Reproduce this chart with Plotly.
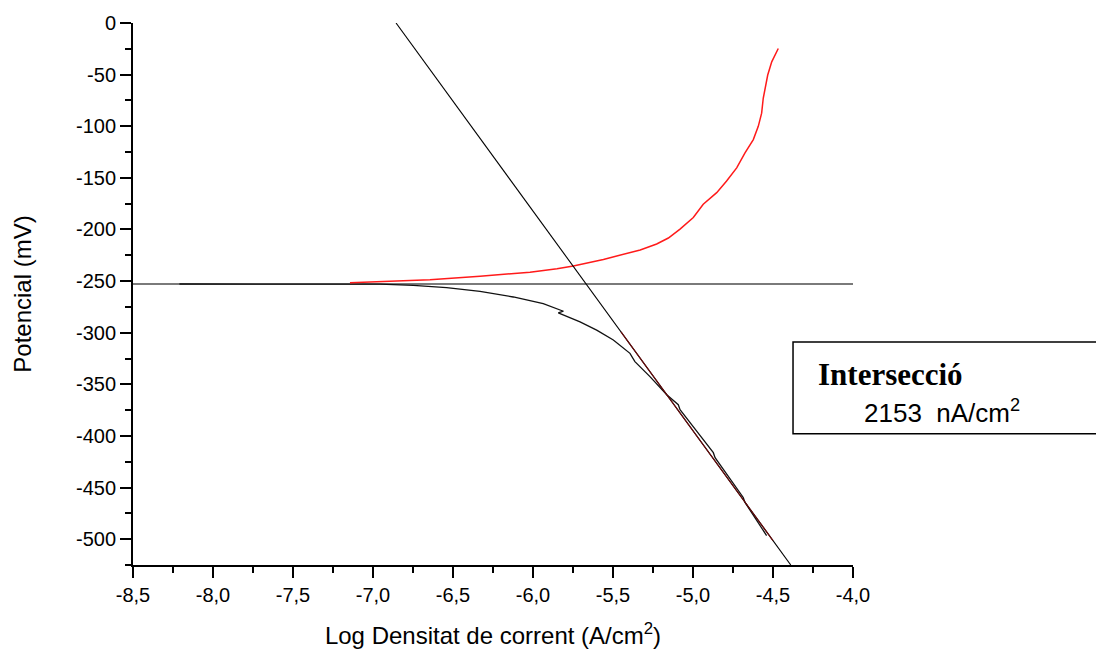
import plotly.graph_objects as go

# ---- data ----
cath_x = [-8.21, -7.8, -7.5, -7.269, -6.956, -6.748, -6.54, -6.331, -6.123, -5.936, -5.831,
          -5.81, -5.842, -5.706, -5.602, -5.498, -5.394, -5.373, -5.363, -5.269, -5.164,
          -5.092, -5.081, -4.977, -4.873, -4.862, -4.769, -4.686, -4.675, -4.602, -4.54]
cath_y = [-252.8, -252.8, -252.7, -252.6, -252.9, -254.2, -256.4, -260.0, -265.4, -271.8,
          -277.6, -279.2, -280.8, -289.5, -297.5, -307.1, -320.0, -324.8, -328.0, -342.5,
          -360.1, -369.7, -374.5, -395.4, -416.2, -421.1, -441.9, -459.6, -464.4, -482.1,
          -496.5]

anod_x = [-7.144, -6.956, -6.644, -6.331, -6.019, -5.85, -5.748, -5.56, -5.4, -5.33, -5.227,
          -5.154, -5.081, -4.998, -4.936, -4.852, -4.79, -4.727, -4.675, -4.623, -4.592,
          -4.571, -4.561, -4.55, -4.533, -4.508, -4.467]
anod_y = [-251.6, -250.6, -248.7, -245.2, -241.4, -238.0, -235.3, -229.0, -222.5, -219.8,
          -214.1, -208.3, -199.6, -188.4, -175.5, -164.3, -153.1, -140.3, -125.8, -112.9,
          -100.1, -87.3, -72.9, -63.3, -50.4, -37.6, -24.7]

tafel_x = [-6.856, -4.389]
tafel_y = [0.0, -525.0]

fit_x = [-5.45, -4.50]
fit_y = [-299.2, -501.4]

ecorr_x = [-8.5, -4.0]
ecorr_y = [-252.7, -252.7]

x_ticks = [-8.5, -8.0, -7.5, -7.0, -6.5, -6.0, -5.5, -5.0, -4.5, -4.0]
x_labels = ["-8,5", "-8,0", "-7,5", "-7,0", "-6,5", "-6,0", "-5,5", "-5,0", "-4,5", "-4,0"]
y_ticks = [0, -50, -100, -150, -200, -250, -300, -350, -400, -450, -500]
y_labels = ["0", "-50", "-100", "-150", "-200", "-250", "-300", "-350", "-400", "-450", "-500"]

fig = go.Figure()
fig.add_trace(go.Scatter(x=ecorr_x, y=ecorr_y, mode="lines",
                         line=dict(color="#7a7a7a", width=2), hoverinfo="skip"))
fig.add_trace(go.Scatter(x=cath_x, y=cath_y, mode="lines",
                         line=dict(color="#111111", width=1.3)))
fig.add_trace(go.Scatter(x=anod_x, y=anod_y, mode="lines",
                         line=dict(color="#ff1a1a", width=1.5)))
fig.add_trace(go.Scatter(x=tafel_x, y=tafel_y, mode="lines",
                         line=dict(color="#000000", width=1.1)))
fig.add_trace(go.Scatter(x=fit_x, y=fit_y, mode="lines",
                         line=dict(color="#6b0a0a", width=1.1)))

axis_font = dict(family="Liberation Sans, Arial", size=20, color="#000")
title_font = dict(family="Liberation Sans, Arial", size=24, color="#000")
fig.update_xaxes(range=[-8.5, -4.0], tickvals=x_ticks, ticktext=x_labels,
                 showgrid=False, zeroline=False, showline=True, linecolor="#000", linewidth=2,
                 ticks="outside", ticklen=11, tickwidth=2, tickcolor="#000",
                 tickfont=axis_font,
                 minor=dict(ticks="outside", ticklen=6, tickwidth=2, tickcolor="#000",
                            dtick=0.25, tick0=-8.5, showgrid=False),
                 title=dict(text="Log Densitat de corrent (A/cm<sup>2</sup>)",
                            font=title_font, standoff=22))
fig.update_yaxes(range=[-525, 0], tickvals=y_ticks, ticktext=y_labels,
                 showgrid=False, zeroline=False, showline=True, linecolor="#000", linewidth=2,
                 ticks="outside", ticklen=11, tickwidth=2, tickcolor="#000",
                 tickfont=axis_font,
                 minor=dict(ticks="outside", ticklen=6, tickwidth=2, tickcolor="#000",
                            dtick=25, tick0=0, showgrid=False),
                 title=dict(text="Potencial (mV)", font=title_font, standoff=38))

fig.add_shape(type="rect", xref="paper", yref="paper", x0=0.9167, x1=1.36, y0=0.2422, y1=0.4116,
              line=dict(color="#000", width=1.5), fillcolor="rgba(0,0,0,0)", layer="above")
fig.add_annotation(xref="paper", yref="paper", x=0.9486, y=0.352, xanchor="left", yanchor="middle",
                   text="<b>Intersecció</b>", showarrow=False,
                   font=dict(family="Liberation Serif, Times New Roman", size=31, color="#000"))
fig.add_annotation(xref="paper", yref="paper", x=1.0125, y=0.2826, xanchor="left", yanchor="middle",
                   text="2153&nbsp; nA/cm<sup>2</sup>", showarrow=False,
                   font=dict(family="Liberation Sans, Arial", size=26, color="#000"))

fig.update_layout(width=1096, height=657, showlegend=False,
                  paper_bgcolor="white", plot_bgcolor="white",
                  margin=dict(l=133, r=243, t=21, b=91))

fig.write_html("out.html")
